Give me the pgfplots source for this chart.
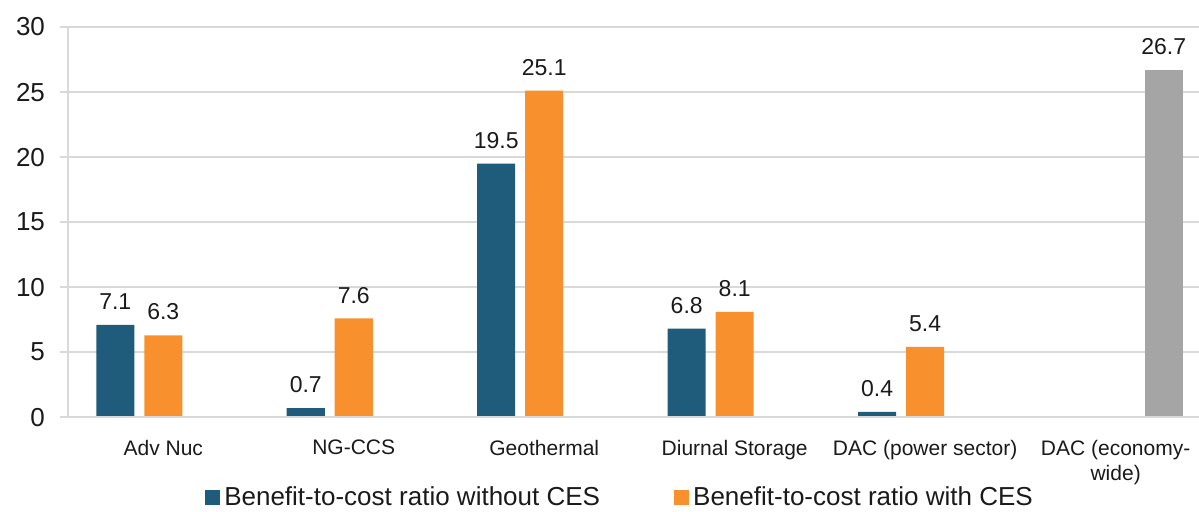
\documentclass[border=0pt]{standalone}
\usepackage{fontspec}
\setmainfont{Liberation Sans}
\usepackage{pgfplots}
\pgfplotsset{compat=1.18}
\definecolor{cblue}{HTML}{1F5B7B}
\definecolor{corange}{HTML}{F7902D}
\definecolor{cgray}{HTML}{A5A5A5}
\definecolor{cgrid}{HTML}{D9D9D9}
\definecolor{ctext}{HTML}{1A1A1A}
\begin{document}
\begin{tikzpicture}
\begin{axis}[
  scale only axis,
  width=565.25pt, height=195pt,
  xmin=-0.5, xmax=5.4375, ymin=0, ymax=30,
  ytick={0,5,...,30},
  xtick={0,1,2,3,4,5},
  xticklabels={Adv Nuc,NG-CCS,Geothermal,Diurnal Storage,DAC (power sector),{DAC (economy-\\wide)}},
  xticklabel style={font=\fontsize{10.5}{12.5}\selectfont, align=center, text=ctext, yshift=-4pt, anchor=north},
  yticklabel style={font=\fontsize{13}{15}\selectfont, text=ctext, xshift=-4pt},
  /pgf/number format/assume math mode=true,
  axis x line*=bottom, axis y line*=left,
  axis line style={cgrid, line width=0.8pt, -},
  x axis line style={draw=none},
  ymajorgrids, grid style={cgrid, line width=0.8pt},
  major x tick style={draw=none},
  major y tick style={cgrid, line width=0.8pt},
  tick align=outside,
  major tick length=4pt,
  ybar, bar width=0.1996,
  every axis plot/.append style={draw=none},
  nodes near coords,
  every node near coord/.append style={font=\fontsize{11.5}{13}\selectfont, text=ctext, yshift=4pt},
  nodes near coords style={/pgf/number format/.cd, fixed, fixed zerofill, precision=1, assume math mode=true},
  legend style={at={(0.489,-0.205)}, anchor=center, draw=none, fill=none,
    font=\fontsize{13}{15}\selectfont, text=ctext, legend columns=2,
    /tikz/every even column/.append style={column sep=35pt}},
  legend image code/.code={\fill[#1] (0pt,-3.75pt) rectangle (7.5pt,3.75pt);},
  clip=false,
]
\addplot[fill=cblue, bar shift=-0.252] coordinates {(0,7.1) (1,0.7) (2,19.5) (3,6.8) (4,0.4)};
\addlegendentry{Benefit-to-cost ratio without CES}
\addplot[fill=corange, bar shift=0] coordinates {(0,6.3) (1,7.6) (2,25.1) (3,8.1) (4,5.4)};
\addlegendentry{Benefit-to-cost ratio with CES}
\addplot[fill=cgray, bar shift=0.252, forget plot] coordinates {(5,26.7)};
\draw[cgrid, line width=0.8pt] (axis cs:-0.5,0) -- (axis cs:5.4375,0);
\end{axis}
\pgfresetboundingbox
\path[use as bounding box] (-34pt,-47pt) rectangle (565.25pt,208.5pt);
\end{tikzpicture}
\end{document}
